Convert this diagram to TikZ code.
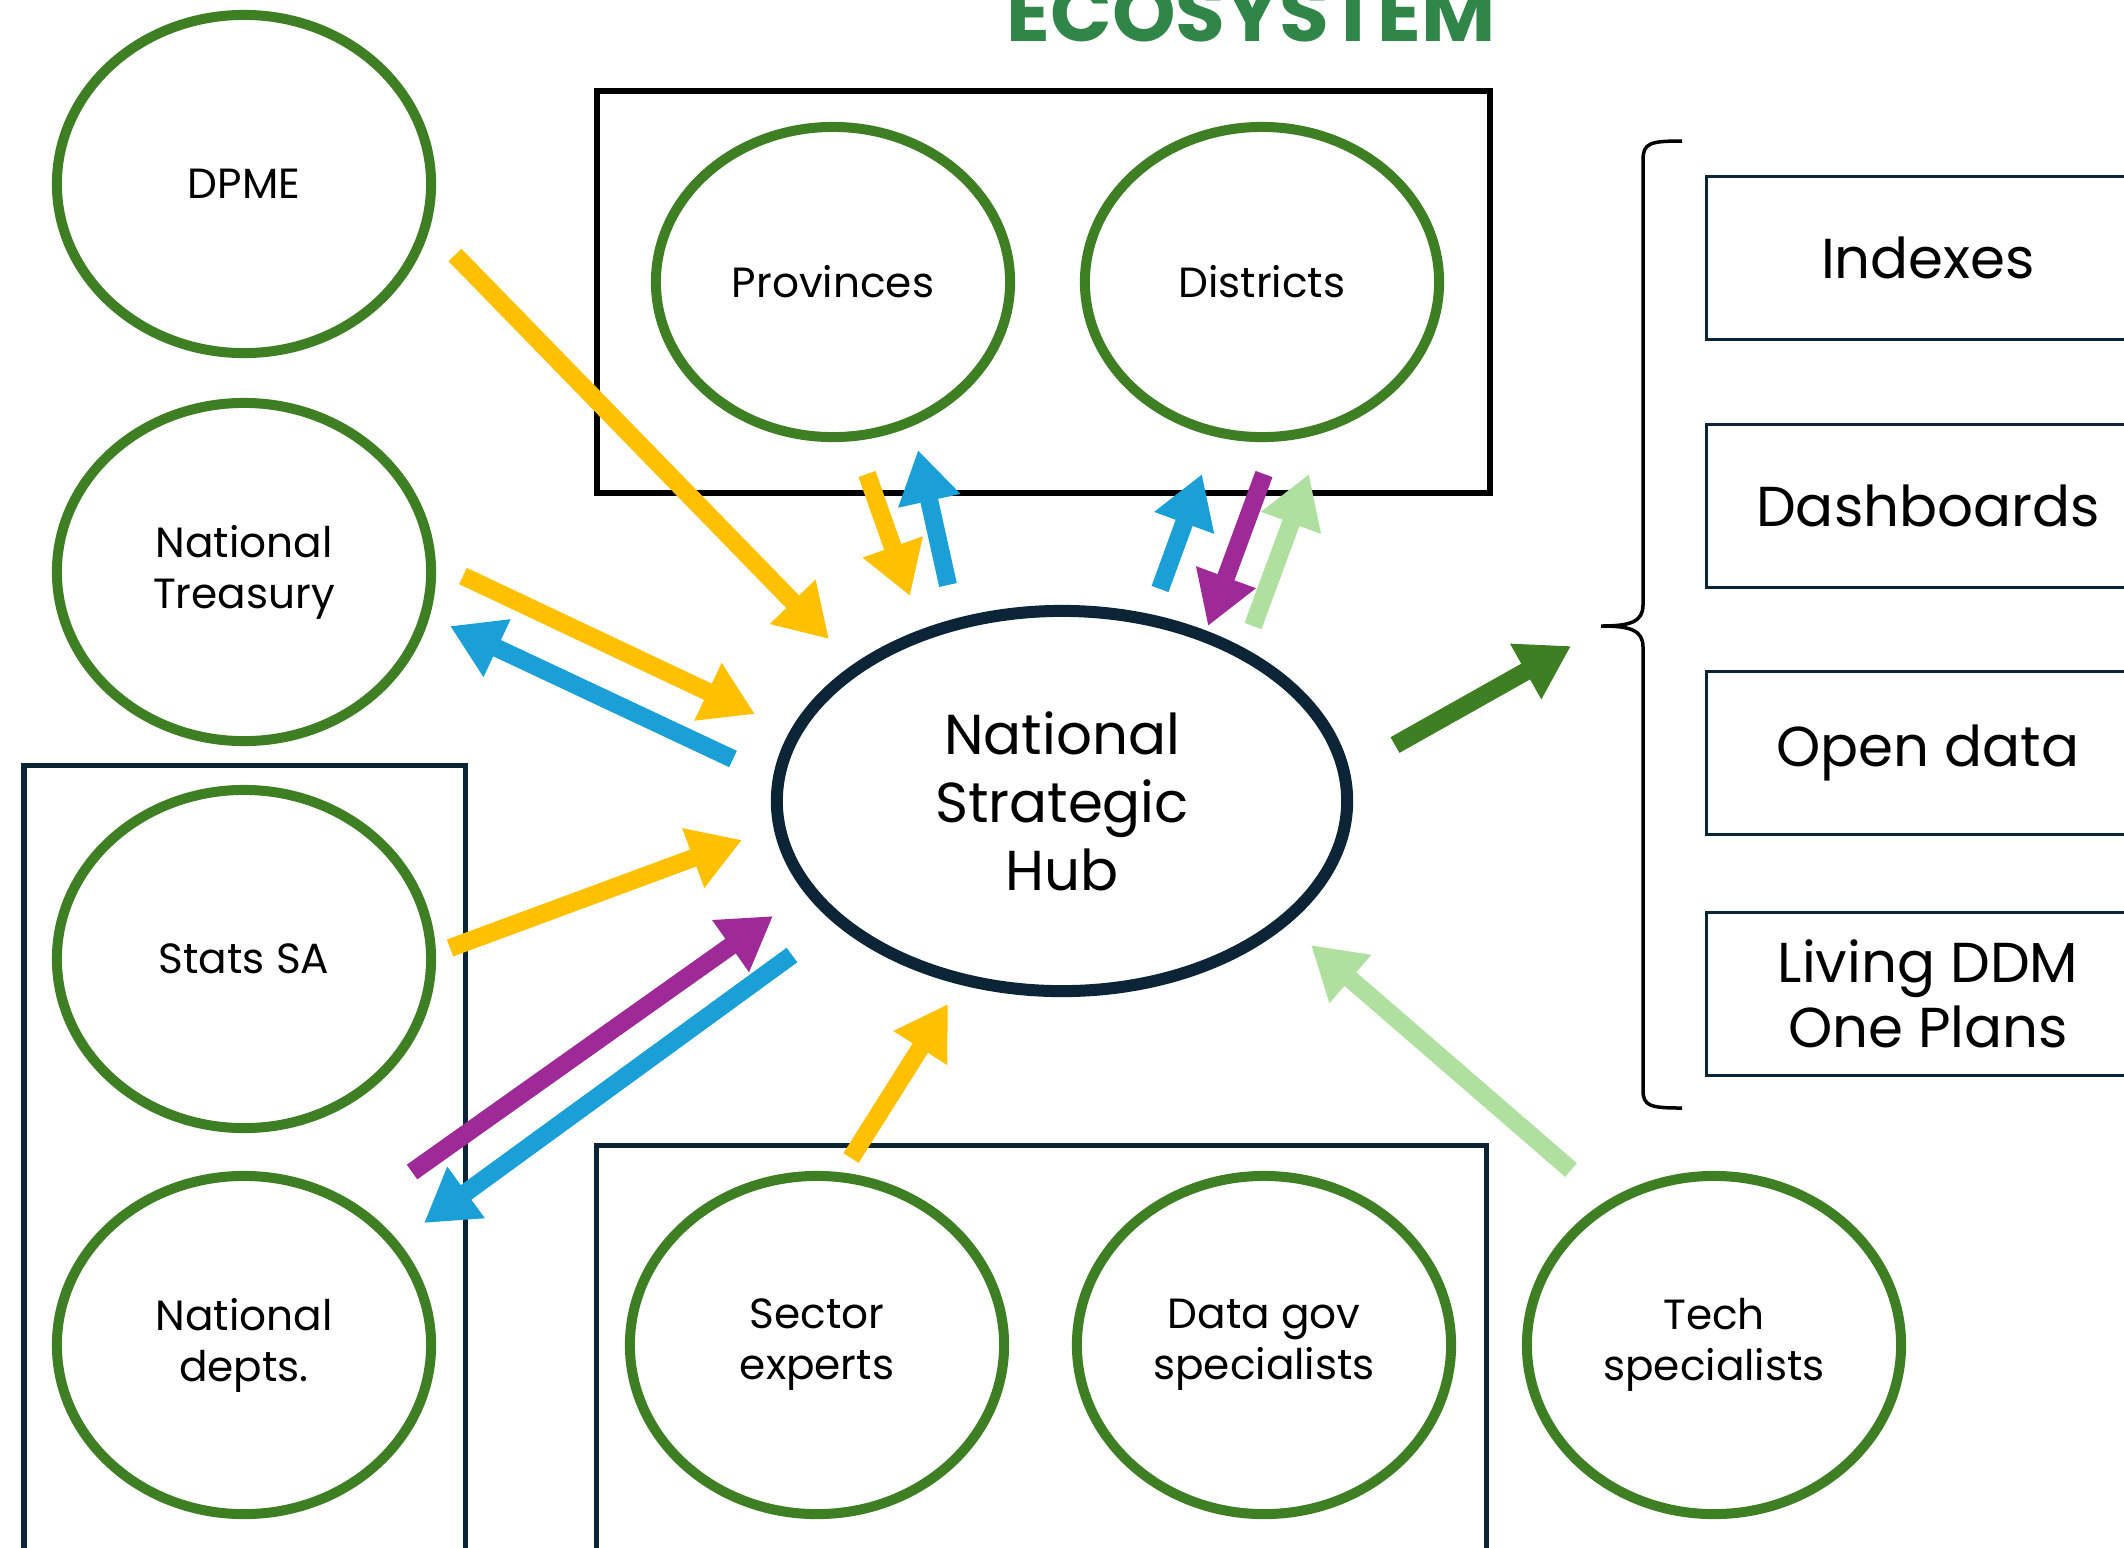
\documentclass[tikz,border=0pt]{standalone}
\usepackage{fontspec}
\setmainfont{Poppins}
\usetikzlibrary{arrows.meta,shapes.geometric}

\definecolor{ringgreen}{RGB}{62,127,36}
\definecolor{titlegreen}{RGB}{48,134,72}
\definecolor{hubnavy}{RGB}{12,37,54}
\definecolor{flowyellow}{RGB}{255,192,0}
\definecolor{flowblue}{RGB}{26,160,214}
\definecolor{flowpurple}{RGB}{157,42,150}
\definecolor{flowmint}{RGB}{176,224,160}

\tikzset{
  ring/.style={ellipse, draw=ringgreen, line width=0.1cm, minimum width=3.74cm,
    minimum height=3.38cm, align=center, font=\fontsize{12}{14.5}\selectfont},
  smallring/.style={ring, minimum width=3.54cm, minimum height=3.1cm},
  outbox/.style={draw=hubnavy, line width=0.03cm, minimum width=4.43cm,
    minimum height=1.62cm, align=center, font=\fontsize{16}{18.5}\selectfont},
  groupbox/.style={draw=hubnavy, line width=0.05cm},
  flow/.style={line width=0.18cm, -{Triangle[length=0.52cm,width=0.6cm]}},
}

\begin{document}
\begin{tikzpicture}[x=0.01cm, y=-0.01cm]
    \clip (0,0) rectangle (2124,1547);
    \fill[white] (0,0) rectangle (2124,1547);

    % Title
    \node[anchor=base, text=titlegreen, font=\bfseries\fontsize{23}{23}\selectfont] (title) at (1251,41) {ECOSYSTEM};

    % Group frames
    \draw[line width=0.06cm] (597,91) rectangle (1490,493);
    \draw[groupbox] (24,765) rectangle (465,1570);
    \draw[groupbox] (596,1145) rectangle (1486,1570);

    % Actors
    \node[ring] (dpme) at (244,184) {DPME};
    \node[ring] (treas) at (244,572) {National\\Treasury};
    \node[ring] (stats) at (244,959) {Stats SA};
    \node[ring] (depts) at (244,1345) {National\\depts.};
    \node[smallring] (prov) at (833,282) {Provinces};
    \node[smallring] (dist) at (1262,282) {Districts};
    \node[ring] (sect) at (817,1345) {Sector\\experts};
    \node[ring] (dgov) at (1264,1345) {Data gov\\specialists};
    \node[ring] (tech) at (1714,1345) {Tech\\specialists};

    % Hub
    \node[ellipse, draw=hubnavy, line width=0.12cm, minimum width=5.7cm, minimum height=3.8cm,
      align=center, font=\fontsize{16}{19.3}\selectfont] (hub) at (1062,801) {National\\Strategic\\Hub};

    % Outputs
    \node[outbox] (idx) at (1928,258) {Indexes};
    \node[outbox] (dash) at (1928,506) {Dashboards};
    \node[outbox] (open) at (1928,753) {Open data};
    \node[outbox] (ddm) at (1928,994) {Living DDM\\One Plans};

    % Brace
    \draw[line width=0.035cm] (1682,141) .. controls (1650,141) and (1643,143) .. (1643,160)
      -- (1643,605) .. controls (1643,622) and (1630,626) .. (1601,626)
      .. controls (1630,626) and (1643,630) .. (1643,647)
      -- (1643,1090) .. controls (1643,1106) and (1650,1108) .. (1682,1108);

    % Arrow ends
    \coordinate (dpme-s) at (455,255);   \coordinate (dpme-e) at (829,639);
    \coordinate (treas-s) at (463,576);  \coordinate (treas-e) at (755,714);
    \coordinate (treas-b) at (733,759);  \coordinate (treas-t) at (450,626);
    \coordinate (stats-s) at (450,948);  \coordinate (stats-e) at (742,840);
    \coordinate (depts-s) at (412,1172); \coordinate (depts-e) at (773,916);
    \coordinate (depts-b) at (792,955);  \coordinate (depts-t) at (424,1223);
    \coordinate (sect-s) at (851,1158);  \coordinate (sect-e) at (948,1004);
    \coordinate (tech-s) at (1571,1170); \coordinate (tech-e) at (1311,945);
    \coordinate (out-s) at (1395,745);   \coordinate (out-e) at (1571,646);
    \coordinate (prov-s) at (867,474);   \coordinate (prov-e) at (910,596);
    \coordinate (prov-b) at (948,585);   \coordinate (prov-t) at (918,450);
    \coordinate (dist-b) at (1160,589);  \coordinate (dist-t) at (1202,474);
    \coordinate (dist-s) at (1264,474);  \coordinate (dist-e) at (1208,626);
    \coordinate (dist-m) at (1253,626);  \coordinate (dist-n) at (1309,474);

    % Flows
    \draw[flow, flowyellow] (dpme-s) -- (dpme-e);
    \draw[flow, flowyellow] (treas-s) -- (treas-e);
    \draw[flow, flowblue] (treas-b) -- (treas-t);
    \draw[flow, flowyellow] (stats-s) -- (stats-e);
    \draw[flow, flowpurple] (depts-s) -- (depts-e);
    \draw[flow, flowblue] (depts-b) -- (depts-t);
    \draw[flow, flowyellow] (sect-s) -- (sect-e);
    \draw[flow, flowmint] (tech-s) -- (tech-e);
    \draw[flow, ringgreen] (out-s) -- (out-e);
    \draw[flow, flowyellow] (prov-s) -- (prov-e);
    \draw[flow, flowblue] (prov-b) -- (prov-t);
    \draw[flow, flowblue] (dist-b) -- (dist-t);
    \draw[flow, flowpurple] (dist-s) -- (dist-e);
    \draw[flow, flowmint] (dist-m) -- (dist-n);
\end{tikzpicture}
\end{document}
